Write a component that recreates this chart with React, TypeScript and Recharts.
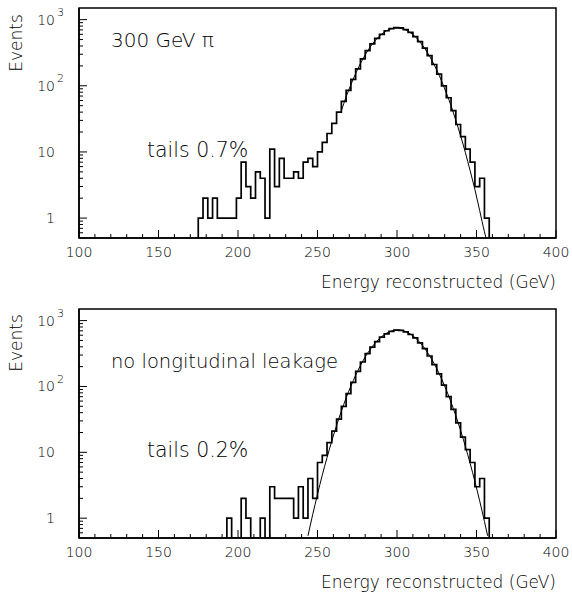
import React from 'react';
import { LineChart, Line, XAxis, YAxis, ReferenceArea } from 'recharts';

const FONT = '"DejaVu Sans", "Open Sans", sans-serif';
const BIN_WIDTH = 3; // GeV
const FLOOR = 0.5; // bottom of the log axis, empty bins sit here
const X_MARGIN = 7;
const Y_MARGIN = 24;

const xLabelTicks = [100, 150, 200, 250, 300, 350, 400];
const xMinorTicks = [110, 120, 130, 140, 160, 170, 180, 190, 210, 220, 230, 240, 260, 270, 280, 290, 310, 320, 330, 340, 360, 370, 380, 390];
const yLabelTicks = [1, 10, 100, 1000];
const yTickLabels = ['1', '10', '10', '10'];
const yTickPowers = ['', '', '2', '3'];
const yMinorTicks = [0.6, 0.7, 0.8, 0.9, 2, 3, 4, 5, 6, 7, 8, 9, 20, 30, 40, 50, 60, 70, 80, 90, 200, 300, 400, 500, 600, 700, 800, 900];

// top panel: 300 GeV pi, all events
const topFirstBin = 175;
const topCounts = [
  1, 2, 1, 2, 1, 1, 1, 1, 2, 7, 3, 2, 5, 4, 1, 11, 3, 8, 4, 4, 5, 4, 7, 8, 6, 10, 14, 19, 27, 40,
  58, 85, 125, 180, 255, 340, 430, 520, 600, 680, 730, 760, 750, 705, 640, 555, 465, 370, 285, 210,
  150, 100, 66, 42, 26, 17, 11, 7, 3, 4, 1,
];
const topFitE = [265, 268, 271, 274, 277, 280, 283, 286, 289, 292, 295, 298, 301, 304, 307, 310, 313, 316, 319, 322, 325, 328, 331, 334, 337, 340, 343, 346, 349, 352, 355, 356];
const topFitV = [42, 68, 104, 153, 217, 293, 381, 473, 565, 645, 707, 743, 748, 722, 668, 593, 504, 411, 321, 241, 173, 119, 78, 50, 30, 17.5, 9.8, 5.2, 2.7, 1.3, 0.62, 0.5];

// bottom panel: no longitudinal leakage
const botFirstBin = 193;
const botCounts = [
  1, 0, 0, 2, 1, 0, 0, 1, 0, 3, 2, 2, 2, 2, 1, 3, 1, 4, 2, 7, 9, 14, 21, 32, 50, 78, 115, 170, 235, 315,
  395, 480, 560, 630, 685, 715, 710, 675, 615, 545, 460, 375, 290, 215, 155, 105, 70, 45, 28, 17,
  11, 7, 3, 4, 1,
];
const botFitE = [244, 247, 250, 253, 256, 259, 262, 265, 268, 271, 274, 277, 280, 283, 286, 289, 292, 295, 298, 301, 304, 307, 310, 313, 316, 319, 322, 325, 328, 331, 334, 337, 340, 343, 346, 349, 352, 355, 357];
const botFitV = [0.54, 1.14, 2.3, 4.5, 8.3, 14.9, 25.6, 42, 67, 101, 148, 208, 280, 361, 448, 534, 612, 673, 710, 720, 700, 655, 588, 506, 419, 333, 254, 187, 131, 88.6, 57.5, 35.8, 21.5, 12.3, 6.8, 3.6, 1.83, 0.89, 0.54];

const xAllTicks = [...xLabelTicks, ...xMinorTicks].sort((a, b) => a - b);
const yAllTicks = [...yLabelTicks, ...yMinorTicks].sort((a, b) => a - b);

function histPoints(first: number, counts: number[]) {
  const pts = [{ x: first, y: FLOOR }];
  counts.forEach((c, i) => pts.push({ x: first + i * BIN_WIDTH, y: c > 0 ? c : FLOOR }));
  pts.push({ x: first + counts.length * BIN_WIDTH, y: FLOOR });
  return pts;
}

function fitPoints(es: number[], vs: number[]) {
  return es.map((e, i) => ({ x: e, y: vs[i] }));
}

// x ticks: drawn inward from the axis line, labels only on the 50 GeV marks
const XTick = (props: any) => {
  const { x, y, payload } = props;
  const axisY = y - X_MARGIN;
  const major = xLabelTicks.includes(payload.value);
  return (
    <g>
      <line x1={x} x2={x} y1={axisY} y2={axisY - (major ? 8 : 4)} stroke="#000" strokeWidth={1} />
      {major && (
        <text x={x} y={y} dy={12} textAnchor="middle" fontSize={14} fontWeight={300} fontFamily={FONT} fill="#000">
          {payload.value}
        </text>
      )}
    </g>
  );
};

// log y ticks: inward marks at every 1..9 x decade, labels on the decades
const YTick = (props: any) => {
  const { x, y, payload } = props;
  const axisX = x + Y_MARGIN;
  const i = yLabelTicks.indexOf(payload.value);
  return (
    <g>
      <line x1={axisX} x2={axisX + (i >= 0 ? 8 : 4)} y1={y} y2={y} stroke="#000" strokeWidth={1} />
      {i >= 0 && (
        <text x={x} y={y} textAnchor="end" dominantBaseline="central" fontSize={14} fontWeight={300} fontFamily={FONT} fill="#000">
          {yTickLabels[i]}
        </text>
      )}
      {i >= 0 && yTickPowers[i] && (
        <text x={x + 2} y={y - 7} textAnchor="start" dominantBaseline="central" fontSize={11} fontWeight={300} fontFamily={FONT} fill="#000">
          {yTickPowers[i]}
        </text>
      )}
    </g>
  );
};

interface PanelProps {
  hist: { x: number; y: number }[];
  fit: { x: number; y: number }[];
  height: number;
  top: number;
  plotHeight: number;
}

const Panel: React.FC<PanelProps> = ({ hist, fit, height, top, plotHeight }) => (
  <LineChart
    width={572}
    height={height}
    margin={{ top, right: 16, bottom: height - top - plotHeight - 30, left: 8 }}
  >
    <XAxis
      dataKey="x"
      type="number"
      domain={[100, 400]}
      ticks={xAllTicks}
      interval={0}
      allowDataOverflow
      height={30}
      tickSize={0}
      tickMargin={X_MARGIN}
      axisLine={{ stroke: '#000', strokeWidth: 1.5 }}
      tickLine={false}
      tick={<XTick />}
    />
    <YAxis
      scale="log"
      type="number"
      domain={[0.5, 1500]}
      allowDataOverflow
      ticks={yAllTicks}
      interval={0}
      width={71}
      tickSize={0}
      tickMargin={Y_MARGIN}
      axisLine={{ stroke: '#000', strokeWidth: 1.5 }}
      tickLine={false}
      tick={<YTick />}
    />
    <ReferenceArea x1={100} x2={400} y1={0.5} y2={1500} fill="none" stroke="#000" strokeWidth={1.5} ifOverflow="visible" />
    <Line data={hist} dataKey="y" type="stepAfter" stroke="#000" strokeWidth={1.7} dot={false} isAnimationActive={false} />
    <Line data={fit} dataKey="y" type="monotone" stroke="#000" strokeWidth={1} dot={false} isAnimationActive={false} />
  </LineChart>
);

const textStyle: React.CSSProperties = {
  position: 'absolute',
  fontFamily: FONT,
  fontWeight: 300,
  color: '#000',
  whiteSpace: 'nowrap',
  lineHeight: 1,
};

export default function App() {
  const topHist = histPoints(topFirstBin, topCounts);
  const botHist = histPoints(botFirstBin, botCounts);
  const topFit = fitPoints(topFitE, topFitV);
  const botFit = fitPoints(botFitE, botFitV);

  return (
    <div style={{ position: 'absolute', left: 0, top: 0, width: 572, height: 599, background: '#fff', overflow: 'hidden' }}>
      <div style={{ position: 'absolute', left: 0, top: 0 }}>
        <Panel hist={topHist} fit={topFit} height={300} top={8} plotHeight={230} />
      </div>
      <div style={{ position: 'absolute', left: 0, top: 300 }}>
        <Panel hist={botHist} fit={botFit} height={299} top={9} plotHeight={229} />
      </div>

      <div style={{ ...textStyle, left: 16, top: 43, fontSize: 17, transform: 'translate(-50%, -50%) rotate(-90deg)' }}>Events</div>
      <div style={{ ...textStyle, left: 16, top: 343, fontSize: 17, transform: 'translate(-50%, -50%) rotate(-90deg)' }}>Events</div>

      <div style={{ ...textStyle, left: 111, top: 30, fontSize: 20 }}>300 GeV π</div>
      <div style={{ ...textStyle, left: 147, top: 140, fontSize: 20.5 }}>tails 0.7%</div>
      <div style={{ ...textStyle, left: 111, top: 352, fontSize: 19.5 }}>no longitudinal leakage</div>
      <div style={{ ...textStyle, left: 147, top: 440, fontSize: 20.5 }}>tails 0.2%</div>

      <div style={{ ...textStyle, right: 16, top: 274, fontSize: 17 }}>Energy reconstructed (GeV)</div>
      <div style={{ ...textStyle, right: 16, top: 574, fontSize: 17 }}>Energy reconstructed (GeV)</div>
    </div>
  );
}
